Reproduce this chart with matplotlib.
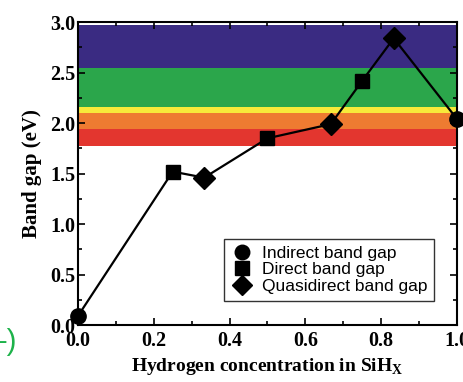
import matplotlib
matplotlib.use("Agg")
import matplotlib.pyplot as plt
from matplotlib.lines import Line2D

plt.rcParams["mathtext.fontset"] = "custom"
plt.rcParams["mathtext.bf"] = "Liberation Serif:bold"
plt.rcParams["mathtext.rm"] = "Liberation Serif"

# Data
x_vals = [0.0, 0.25, 0.333, 0.5, 0.667, 0.75, 0.833, 1.0]
gap_vals = [0.09, 1.52, 1.46, 1.85, 1.99, 2.42, 2.84, 2.04]
gap_types = ["indirect", "direct", "quasi", "direct", "quasi", "direct", "quasi", "indirect"]

band_lows = [1.77, 1.94, 2.10, 2.16, 2.55]
band_highs = [1.94, 2.10, 2.16, 2.55, 2.97]
band_colors = ["#e3362f", "#ee7b31", "#f7ea3a", "#2ba64b", "#3a2b82"]

legend_labels = ["Indirect band gap", "Direct band gap", "Quasidirect band gap"]
marker_for = {"indirect": ("o", 11), "direct": ("s", 10), "quasi": ("D", 11)}

serif = "Liberation Serif"
sans = "Liberation Sans"

fig = plt.figure(figsize=(4.64, 3.82), dpi=100)
ax = fig.add_axes([0.168, 0.149, 0.817, 0.793])

for lo, hi, c in zip(band_lows, band_highs, band_colors):
    ax.axhspan(lo, hi, color=c, lw=0, zorder=0)

ax.plot(x_vals, gap_vals, color="black", lw=1.6, zorder=2)
for x, y, t in zip(x_vals, gap_vals, gap_types):
    m, s = marker_for[t]
    ax.plot([x], [y], marker=m, ms=s, color="black", ls="none", zorder=3, clip_on=False)

ax.set_xlim(0, 1.0)
ax.set_ylim(0, 3.0)
ax.set_xticks([0.0, 0.2, 0.4, 0.6, 0.8, 1.0])
ax.set_xticks([0.1, 0.3, 0.5, 0.7, 0.9], minor=True)
ax.set_yticks([0.0, 0.5, 1.0, 1.5, 2.0, 2.5, 3.0])
ax.set_yticks([0.25, 0.75, 1.25, 1.75, 2.25, 2.75], minor=True)
ax.xaxis.set_major_formatter(matplotlib.ticker.FormatStrFormatter("%.1f"))
ax.yaxis.set_major_formatter(matplotlib.ticker.FormatStrFormatter("%.1f"))
ax.tick_params(which="both", direction="in", top=True, right=True, width=1.2)
ax.tick_params(which="major", length=5)
ax.tick_params(axis="y", which="major", pad=2)
ax.tick_params(axis="x", which="major", pad=4)
ax.tick_params(which="minor", length=3)
for lab in ax.get_xticklabels() + ax.get_yticklabels():
    lab.set_fontfamily(serif)
    lab.set_fontweight("bold")
    lab.set_fontsize(14.5)
for sp in ax.spines.values():
    sp.set_linewidth(1.5)

ax.set_ylabel("Band gap (eV)", fontfamily=serif, fontweight="bold", fontsize=15, labelpad=6)
ax.set_xlabel(r"Hydrogen concentration in SiH$_\mathbf{X}$", fontfamily=serif,
              fontweight="bold", fontsize=14, labelpad=4)

handles = [Line2D([], [], marker=marker_for[k][0], ms=marker_for[k][1] * 0.95, color="black", ls="none")
           for k in ["indirect", "direct", "quasi"]]
leg = ax.legend(handles, legend_labels, loc="lower right", bbox_to_anchor=(0.94, 0.08),
                prop={"family": sans, "size": 12.5}, frameon=True, fancybox=False,
                edgecolor="black", handletextpad=0.5, borderpad=0.4, labelspacing=0.08,
                handlelength=1.3, borderaxespad=0.0)
leg.get_frame().set_linewidth(1.0)

fig.text(-0.005, 0.105, "-)", color="#1db24a", fontsize=21, fontfamily=sans, ha="left", va="center")

fig.savefig("out.png", dpi=100)
